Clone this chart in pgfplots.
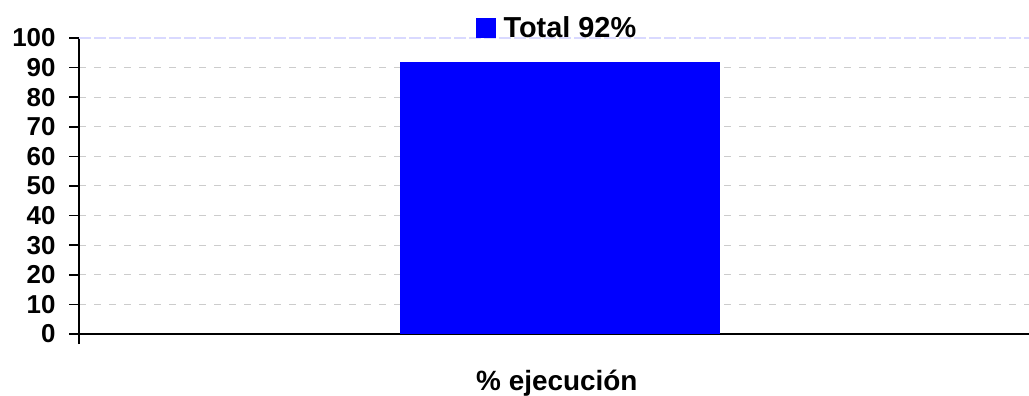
\documentclass[border=0pt]{standalone}
\usepackage{fontspec}
\setmainfont{Liberation Sans}
\usepackage{pgfplots}
\pgfplotsset{compat=1.18}
\begin{document}
\begin{tikzpicture}
\useasboundingbox (0,0) rectangle (1029bp,396bp);
\begin{axis}[
    at={(79bp,62bp)}, anchor=south west,
    scale only axis, width=950bp, height=296bp,
    xmin=0, xmax=1, ymin=0, ymax=100,
    axis x line*=bottom, axis y line*=left,
    axis line style={black, line width=1.6bp, -},
    xtick={0}, xticklabels={},
    ytick={0,10,...,100},
    tick align=outside, major tick length=10bp,
    tick style={black, line width=1.6bp},
    ymajorgrids, grid style={dashed, gray!40, line width=1bp, dash pattern=on 7bp off 8bp},
    /pgf/number format/assume math mode=true,
    yticklabel style={font=\fontsize{26}{28}\selectfont\bfseries, xshift=-10bp},
    xlabel={\% ejecución},
    xlabel style={at={(axis description cs:0.503,0)}, anchor=center, yshift=-49bp,
        font=\fontsize{28}{30}\selectfont\bfseries},
    legend style={at={(0.503,1.034)}, anchor=center, draw=none, fill=none,
        font=\fontsize{29}{31}\selectfont\bfseries, inner sep=0pt},
    legend image code/.code={\fill[blue] (0bp,-10bp) rectangle (20bp,10bp); \path (26bp,0bp);},
    clip=false,
]
\addplot[ybar, fill=blue, draw=none, bar width=320bp] coordinates {(0.506,92)};
\addlegendentry{Total 92\%}
\draw[blue!15, line width=1.5bp, dash pattern=on 12bp off 3bp] (axis cs:0,100) -- (axis cs:1,100);
\end{axis}
\end{tikzpicture}
\end{document}
